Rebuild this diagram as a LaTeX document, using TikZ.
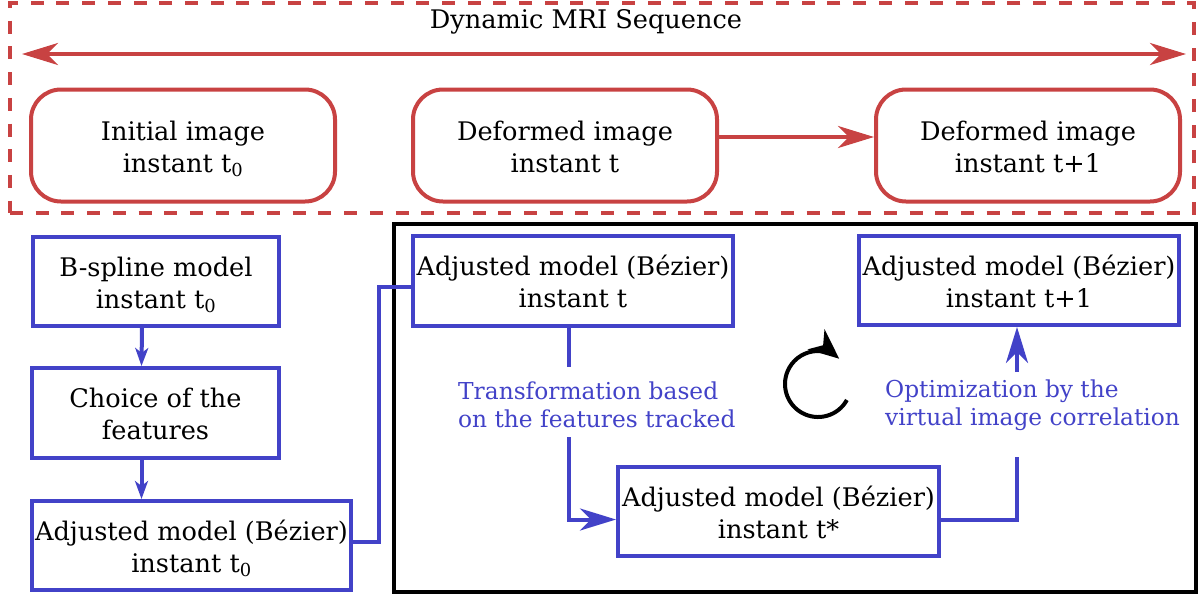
\documentclass[tikz,border=0pt]{standalone}
\usepackage{fontspec}
\setmainfont{DejaVu Serif}
\usetikzlibrary{arrows.meta}
\definecolor{myred}{RGB}{200,66,66}
\definecolor{myblue}{RGB}{66,66,200}
\newcommand{\twoline}[2]{\rule{0pt}{26pt}#1\\#2\rule[-5pt]{0pt}{5pt}}
\begin{document}
\begin{tikzpicture}[x=1pt,y=-1pt,
  txt/.style={font=\fontsize{25.6}{32}\selectfont, align=center, text=black},
  redbox/.style={draw=myred, line width=4pt, rounded corners=30pt, inner sep=0pt, txt, minimum width=304pt, minimum height=112pt},
  bluebox/.style={draw=myblue, line width=4pt, inner sep=0pt, txt},
  lab/.style={text=myblue, font=\fontsize{23.3}{28}\selectfont, align=left, inner sep=0pt, anchor=west},
  redline/.style={draw=myred, line width=4pt},
  blueline/.style={draw=myblue, line width=4pt},
  bigtip/.style={-{Stealth[length=36pt,width=22pt,inset=11pt]}},
  bothtip/.style={{Stealth[length=36pt,width=22pt,inset=11pt]}-{Stealth[length=36pt,width=22pt,inset=11pt]}},
  smalltip/.style={-{Stealth[length=18pt,width=13pt,inset=5pt]}},
]
\useasboundingbox (0,0) rectangle (1198,598);

% dynamic MRI sequence frame
\node[draw=myred, line width=4pt, dash pattern=on 13pt off 12.7pt, minimum width=1184pt, minimum height=210pt, inner sep=0pt] (seq) at (602,108) {};
\node[txt, inner sep=0pt] (title) at (586,22) {Dynamic MRI Sequence};
\coordinate (dl) at (22,54);
\coordinate (dr) at (1186,54);
\draw[redline, bothtip] (dl) -- (dr);

\node[redbox] (img0) at (183,145.5) {\twoline{Initial image}{instant t\textsubscript{0}}};
\node[redbox] (imgt) at (565,145.5) {\twoline{Deformed image}{instant t}};
\node[redbox] (imgt1) at (1028,145.5) {\twoline{Deformed image}{instant t+1}};
\draw[redline, bigtip] ([yshift=8.5pt]imgt.east) -- ([yshift=8.5pt]imgt1.west);

% left column
\node[bluebox, minimum width=246pt, minimum height=89pt] (bs) at (156,281.5) {\twoline{B-spline model}{instant t\textsubscript{0}}};
\node[bluebox, minimum width=247pt, minimum height=90pt] (ch) at (155.5,413) {\twoline{Choice of the}{features}};
\node[bluebox, minimum width=319pt, minimum height=89pt] (a0) at (191.5,545.5) {\twoline{Adjusted model (Bézier)}{instant t\textsubscript{0}}};
\draw[blueline, smalltip] ([xshift=-14pt]bs.south) -- ([xshift=-14pt]ch.north);
\draw[blueline, smalltip] ([xshift=-14pt]ch.south) -- ([xshift=-50pt]a0.north);

% loop frame
\node[draw=black, line width=4pt, minimum width=802pt, minimum height=368pt, inner sep=0pt] (loop) at (795,408) {};

\node[bluebox, minimum width=320pt, minimum height=90pt] (at) at (573,281) {\twoline{Adjusted model (Bézier)}{instant t}};
\node[bluebox, minimum width=320pt, minimum height=89pt] (at1) at (1019,280.5) {\twoline{Adjusted model (Bézier)}{instant t+1}};
\node[bluebox, minimum width=321pt, minimum height=89pt] (ats) at (778.5,511.5) {\twoline{Adjusted model (Bézier)}{instant t*}};

\draw[blueline] ([yshift=4pt]a0.east) -- ++(26,0) |- ([yshift=-6pt]at.west);

\coordinate (g1) at (569,367);
\coordinate (g2) at (569,437);
\draw[blueline] (at.south -| g1) -- (g1);
\draw[blueline, bigtip] (g2) |- ([yshift=-8pt]ats.west);
\node[lab] (lt) at (458,405) {Transformation based\\on the features tracked};

\coordinate (g3) at (1017,457);
\coordinate (g4) at (1017,372);
\draw[blueline] ([yshift=-8pt]ats.east) -| (g3);
\draw[blueline, bigtip] (g4) -- (at1.south -| g4);
\node[lab] (lo) at (885,405) {Optimization by the\\virtual image correlation};

% cycle symbol
\coordinate (cc) at (818,384);
\draw[black, line width=4pt, -{Stealth[length=30pt,width=26pt,inset=9pt]}] (cc) ++(29:33) arc[start angle=29, end angle=310, radius=33];
\end{tikzpicture}
\end{document}
